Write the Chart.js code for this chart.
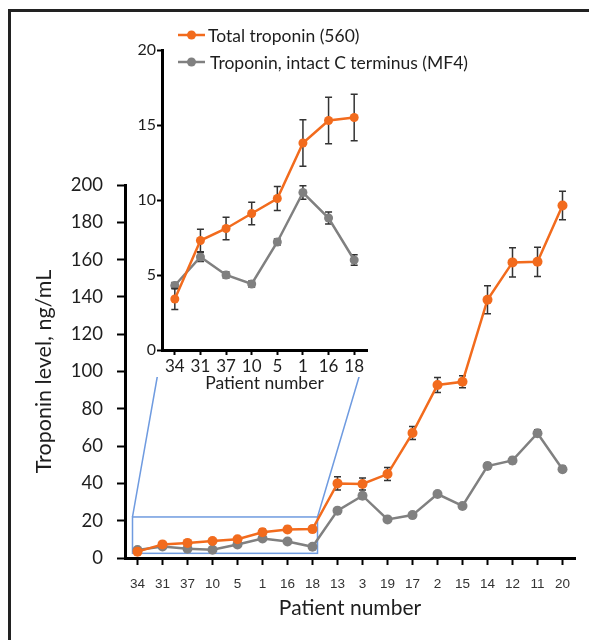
<!DOCTYPE html>
<html>
<head>
<meta charset="utf-8">
<script src="https://cdn.jsdelivr.net/npm/chart.js@4.4.1/dist/chart.umd.min.js"></script>
<style>
  html, body { margin: 0; padding: 0; background: #fff; overflow: hidden; }
  #wrap { position: relative; width: 589px; height: 640px; overflow: hidden; }
  .rule { position: absolute; background: #222; }
  #ruleTop { left: 8px; top: 9px; width: 581px; height: 3px; }
  #ruleLeft { left: 8px; top: 9px; width: 3px; height: 631px; }
  #main { position: absolute; left: 0; top: 0; }
  #inset { position: absolute; left: 130px; top: 20px; z-index: 2; }
</style>
</head>
<body>
<div id="wrap">
  <div class="rule" id="ruleTop"></div>
  <div class="rule" id="ruleLeft"></div>
  <canvas id="main" width="589" height="640"></canvas>
  <canvas id="inset" width="360" height="380"></canvas>
</div>
<script>
// patients in plotted order
const patients = ["34", "31", "37", "10", "5", "1", "16", "18", "13", "3", "19", "17", "2", "15", "14", "12", "11", "20"];
// total troponin (560), ng/mL, with error bars
const totalTroponin = [3.4, 7.3, 8.1, 9.1, 10.1, 13.8, 15.3, 15.5, 40, 39.7, 45, 67, 92.8, 94.5, 138.5, 158.5, 158.8, 189];
const totalErr = [0.7, 0.75, 0.75, 0.75, 0.8, 1.55, 1.55, 1.55, 3.6, 3.2, 3.5, 3.5, 4, 3.2, 7.5, 7.8, 7.8, 7.6];
// troponin with intact C terminus (MF4)
const intactC = [4.3, 6.2, 5.0, 4.4, 7.2, 10.5, 8.8, 6.0, 25.4, 33.4, 20.7, 23, 34.3, 27.9, 49.3, 52.3, 66.9, 47.6];
const intactErr = [0.2, 0.3, 0.2, 0.2, 0.2, 0.45, 0.4, 0.35, 0.8, 1.5, 0.8, 1, 1, 0.8, 1.6, 1.6, 1.8, 1.6];
// first patients shown again in the zoomed inset
const insetCount = 8;

const ORANGE = "#f26b1d";
const GRAY = "#808080";
const INK = "#1e1e1e";

const errorBars = {
  id: "errorBars",
  beforeDatasetDraw(chart, args, opts) {
    const ds = chart.data.datasets[args.index];
    if (!ds.errors) return;
    const y = chart.scales.y;
    const ctx = chart.ctx;
    const cap = opts.cap || 3.5;
    ctx.save();
    ctx.strokeStyle = "#333";
    ctx.lineWidth = 1.5;
    args.meta.data.forEach((pt, i) => {
      const top = y.getPixelForValue(ds.data[i] + ds.errors[i]);
      const bot = y.getPixelForValue(ds.data[i] - ds.errors[i]);
      ctx.beginPath();
      ctx.moveTo(pt.x, top); ctx.lineTo(pt.x, bot);
      ctx.moveTo(pt.x - cap, top); ctx.lineTo(pt.x + cap, top);
      ctx.moveTo(pt.x - cap, bot); ctx.lineTo(pt.x + cap, bot);
      ctx.stroke();
    });
    ctx.restore();
  }
};

function makeDatasets(n, radius) {
  return [
    {
      label: "Total troponin (560)",
      data: totalTroponin.slice(0, n),
      errors: totalErr.slice(0, n),
      borderColor: ORANGE,
      backgroundColor: ORANGE,
      borderWidth: 2.5,
      pointRadius: radius,
      pointBorderWidth: 0,
      tension: 0
    },
    {
      label: "Troponin, intact C terminus (MF4)",
      data: intactC.slice(0, n),
      errors: intactErr.slice(0, n),
      borderColor: GRAY,
      backgroundColor: GRAY,
      borderWidth: 2.5,
      pointRadius: radius,
      pointBorderWidth: 0,
      tension: 0
    }
  ];
}

// ---------- inset ----------
const insetCanvas = document.getElementById("inset");

const whiteBack = {
  id: "whiteBack",
  beforeDraw(chart) {
    const a = chart.chartArea;
    chart.ctx.save();
    chart.ctx.fillStyle = "#fff";
    chart.ctx.fillRect(0, 0, a.right + 8, a.bottom + 27);
    chart.ctx.restore();
  }
};

const lineLegend = {
  id: "lineLegend",
  afterDraw(chart) {
    const ctx = chart.ctx;
    ctx.save();
    chart.data.datasets.forEach((ds, i) => {
      const y = 15 + i * 27;
      const x0 = 48;
      ctx.strokeStyle = ds.borderColor;
      ctx.lineWidth = 2.5;
      ctx.beginPath();
      ctx.moveTo(x0, y); ctx.lineTo(x0 + 27, y);
      ctx.stroke();
      ctx.fillStyle = ds.borderColor;
      ctx.beginPath();
      ctx.arc(x0 + 13.5, y, 4.5, 0, Math.PI * 2);
      ctx.fill();
      ctx.fillStyle = INK;
      ctx.font = "17.5px Lato";
      ctx.textBaseline = "middle";
      ctx.fillText(ds.label, x0 + 30 + i * 2, y + 1);
    });
    ctx.restore();
  }
};

const inset = new Chart(insetCanvas, {
  type: "line",
  data: { labels: patients.slice(0, insetCount), datasets: makeDatasets(insetCount, 4.5) },
  options: {
    responsive: false,
    animation: false,
    devicePixelRatio: 1,
    layout: { padding: { left: 0, right: 123, top: 30, bottom: 0 } },
    plugins: { legend: { display: false }, tooltip: { enabled: false }, errorBars: { cap: 3.5 } },
    scales: {
      x: {
        offset: true,
        grid: { drawOnChartArea: false, offset: false, tickLength: 5, tickWidth: 2, tickColor: "#000" },
        border: { color: "#000", width: 3 },
        ticks: { color: INK, font: { family: "Lato", size: 17 }, padding: 1, maxRotation: 0, autoSkip: false },
        title: { display: true, text: "Patient number", color: INK, font: { family: "Lato", size: 17.5 }, padding: { top: 0, bottom: 6 } },
        afterFit(scale) { scale.height = 50; }
      },
      y: {
        min: 0, max: 20,
        grid: { drawOnChartArea: false, tickLength: 5, tickWidth: 2, tickColor: "#000" },
        border: { color: "#000", width: 3 },
        ticks: { stepSize: 5, color: INK, font: { family: "Lato", size: 16 }, padding: 1 },
        afterFit(scale) { scale.width = 32; }
      }
    }
  },
  plugins: [whiteBack, errorBars, lineLegend]
});

// ---------- main ----------
// zoomed region outlined on the main chart (category index / ng/mL)
const boxX = [-0.2, 7.2];
const boxY = [2.5, 22];

const zoomBox = {
  id: "zoomBox",
  beforeDatasetsDraw(chart) {
    const x = chart.scales.x, y = chart.scales.y;
    const l = x.getPixelForValue(boxX[0]), r = x.getPixelForValue(boxX[1]);
    const t = y.getPixelForValue(boxY[1]), b = y.getPixelForValue(boxY[0]);
    const ia = inset.chartArea;
    const ox = insetCanvas.offsetLeft, oy = insetCanvas.offsetTop;
    const ctx = chart.ctx;
    ctx.save();
    ctx.strokeStyle = "#6f9be0";
    ctx.lineWidth = 1.5;
    ctx.strokeRect(l, t, r - l, b - t);
    ctx.beginPath();
    ctx.moveTo(l, t); ctx.lineTo(ox + ia.left, oy + ia.bottom);
    ctx.moveTo(r, t); ctx.lineTo(ox + ia.right, oy + ia.bottom);
    ctx.stroke();
    ctx.restore();
  }
};

new Chart(document.getElementById("main"), {
  type: "line",
  data: { labels: patients, datasets: makeDatasets(patients.length, 5) },
  options: {
    responsive: false,
    animation: false,
    devicePixelRatio: 1,
    layout: { padding: { left: 0, right: 14, top: 185, bottom: 12 } },
    plugins: { legend: { display: false }, tooltip: { enabled: false }, errorBars: { cap: 3.5 } },
    scales: {
      x: {
        offset: true,
        grid: { drawOnChartArea: false, offset: false, tickLength: 7, tickWidth: 2, tickColor: "#000" },
        border: { color: "#000", width: 3 },
        ticks: { color: "#333", font: { family: "Liberation Sans", size: 13.5 }, padding: 11, maxRotation: 0, autoSkip: false },
        title: { display: true, text: "Patient number", color: INK, font: { family: "Lato", size: 21 }, padding: { top: 0, bottom: 7 } },
        afterFit(scale) { scale.height = 70; }
      },
      y: {
        min: 0, max: 200,
        grid: { drawOnChartArea: false, tickLength: 8, tickWidth: 2, tickColor: "#000" },
        border: { color: "#000", width: 3 },
        ticks: { stepSize: 20, color: INK, font: { family: "Lato", size: 18.5 }, padding: 14 },
        title: { display: true, text: "Troponin level, ng/mL", color: INK, font: { family: "Lato", size: 21.5 }, padding: { top: 31, bottom: 0 } },
        afterFit(scale) { scale.width = 125; }
      }
    }
  },
  plugins: [errorBars, zoomBox]
});
</script>
</body>
</html>
